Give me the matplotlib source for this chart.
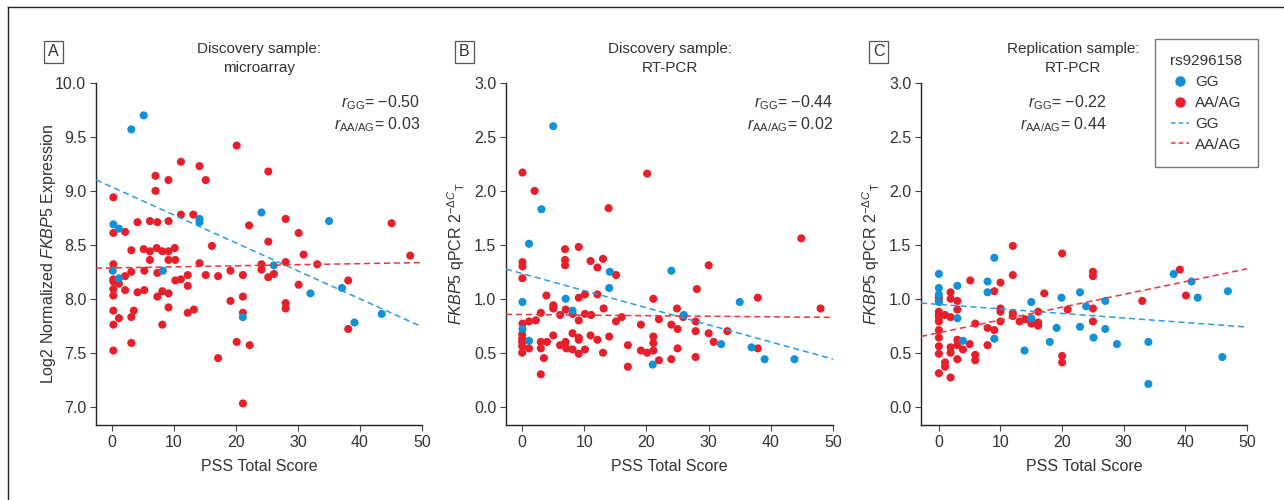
import matplotlib
matplotlib.use("Agg")
import matplotlib.pyplot as plt
from matplotlib.lines import Line2D
import numpy as np

plt.rcParams['font.family'] = ['Liberation Sans Narrow', 'Liberation Sans', 'DejaVu Sans']
plt.rcParams['mathtext.fontset'] = 'custom'
plt.rcParams['mathtext.rm'] = 'Liberation Sans'
plt.rcParams['mathtext.it'] = 'Liberation Sans:italic'
plt.rcParams['mathtext.bf'] = 'Liberation Sans:bold'

# ---------------- data ----------------
# Panel A: Discovery microarray
a_gg_x = [3.1, 5.1, 0.2, 1.1, 14.1, 14.1, 24.1, 35.0, 0.1, 1.1, 8.2, 21.1, 26.1, 32.0, 37.1, 39.1, 43.5]
a_gg_y = [9.57, 9.70, 8.69, 8.65, 8.74, 8.71, 8.80, 8.72, 8.26, 8.19, 8.26, 7.83, 8.31, 8.05, 8.10, 7.78, 7.86]
a_aa_x = [0.2, 0.2, 2.1, 4.1, 6.1, 7.3, 7.0, 7.0, 9.1, 9.1, 11.1, 11.1, 13.1, 14.1, 15.1, 20.1, 22.1,
          25.2, 25.2, 28.0, 30.1, 45.1, 16.1,
          0.2, 0.2, 0.2, 1.1, 0.2, 0.2, 0.2, 0.2, 0.2, 1.1, 2.1, 2.1, 3.1, 3.1, 3.1, 3.5, 3.1, 4.1,
          5.1, 6.1, 6.1, 5.2, 5.2, 7.2, 7.3, 7.3, 8.1, 8.1, 8.1, 9.1, 9.1, 9.1, 9.1, 10.1, 10.2, 10.2,
          11.1, 12.2, 12.2, 12.2, 13.2, 14.1, 15.1, 17.1, 17.1, 19.1, 19.1, 20.1, 21.1, 21.1, 21.1,
          21.1, 22.2, 24.1, 24.1, 25.2, 26.1, 28.0, 28.0, 28.0, 30.1, 30.9, 33.1, 38.1, 38.1, 48.1]
a_aa_y = [8.94, 8.61, 8.62, 8.71, 8.72, 8.71, 9.14, 9.00, 9.10, 8.72, 9.27, 8.78, 8.78, 9.23, 9.10, 9.42, 8.68,
          9.18, 8.53, 8.74, 8.61, 8.70, 8.49,
          8.32, 8.18, 8.16, 8.14, 8.09, 8.03, 7.89, 7.76, 7.52, 7.82, 8.21, 8.08, 8.45, 8.25, 7.83, 7.89, 7.59, 8.06,
          8.46, 8.44, 8.36, 8.26, 8.08, 8.47, 8.24, 8.02, 8.44, 8.07, 7.76, 8.44, 8.36, 8.05, 7.92, 8.47, 8.36, 8.17,
          8.18, 8.22, 8.12, 7.87, 7.90, 8.33, 8.22, 8.21, 7.45, 8.26, 7.98, 7.60, 8.22, 8.02, 7.87,
          7.03, 7.57, 8.32, 8.27, 8.20, 8.23, 8.34, 7.96, 7.91, 8.13, 8.41, 8.32, 8.17, 7.72, 8.40]

# Panel B: Discovery RT-PCR
b_gg_x = [5.0, 3.1, 1.1, 0.05, 0.05, 1.1, 7.0, 8.1, 14.1, 14.0, 21.0, 24.0, 26.0, 32.0, 35.0, 36.9, 39.0, 43.8]
b_gg_y = [2.60, 1.83, 1.51, 0.97, 0.72, 0.61, 1.00, 0.89, 1.25, 1.10, 0.39, 1.26, 0.85, 0.58, 0.97, 0.55, 0.44, 0.44]
b_aa_x = [0.05, 2.0, 20.1, 13.9, 44.9, 6.9, 9.1,
          0.05, 0.05, 0.05, 0.05, 0.0, 0.0, 0.0, 0.0, 0.0, 1.1, 1.1, 2.2, 3.0, 3.0, 3.0, 3.5, 3.0,
          3.9, 4.0, 5.0, 5.0, 5.0, 6.1, 6.1, 6.9, 6.9, 7.0, 7.0, 7.1, 8.1, 8.1, 8.1, 9.1, 9.1, 9.1,
          9.1, 9.1, 10.1, 10.1, 10.1, 11.0, 11.0, 11.1, 12.1, 12.1, 12.1, 13.0, 13.1, 13.0, 14.0,
          15.1, 15.1, 16.0, 17.0, 17.0, 19.1, 19.1, 20.1, 21.1, 21.1, 21.1, 21.1, 22.0, 22.0, 24.0,
          24.0, 24.9, 25.0, 25.0, 25.9, 27.9, 27.9, 27.9, 28.1, 30.0, 30.0, 30.8, 33.0, 37.9, 37.9, 48.0]
b_aa_y = [2.17, 2.00, 2.16, 1.84, 1.56, 1.46, 1.48,
          1.34, 1.30, 1.19, 0.77, 0.67, 0.63, 0.60, 0.56, 0.50, 0.79, 0.54, 0.80, 0.87, 0.60, 0.54, 0.45, 0.30,
          1.03, 0.60, 0.94, 0.91, 0.66, 0.85, 0.57, 1.36, 1.31, 0.90, 0.60, 0.54, 0.86, 0.68, 0.53, 1.01, 0.80, 0.64,
          0.62, 0.49, 1.04, 0.86, 0.53, 1.35, 0.66, 0.85, 1.29, 1.04, 0.62, 1.37, 0.91, 0.50, 0.65,
          1.22, 0.79, 0.83, 0.57, 0.37, 0.76, 0.52, 0.50, 1.00, 0.65, 0.59, 0.52, 0.81, 0.43, 0.76,
          0.44, 0.91, 0.72, 0.54, 0.83, 0.79, 0.70, 0.46, 1.09, 1.31, 0.68, 0.60, 0.70, 1.01, 0.54, 0.91]

# Panel C: Replication RT-PCR
c_gg_x = [0, 0, 0, 0, 3.0, 3.0, 3.9, 7.9, 7.9, 9.0, 9.0, 13.9, 15.0, 15.0, 18.0, 19.1, 19.9, 22.9, 22.9,
          23.9, 25.1, 27.0, 27.0, 28.9, 34.0, 34.0, 38.1, 41.0, 42.0, 46.0, 46.9]
c_gg_y = [1.23, 1.10, 1.04, 0.97, 1.12, 0.82, 0.61, 1.16, 1.06, 1.38, 0.63, 0.52, 0.97, 0.82, 0.60, 0.73, 1.01, 1.06, 0.74,
          0.93, 0.64, 0.98, 0.72, 0.58, 0.60, 0.21, 1.23, 1.16, 1.01, 0.46, 1.07]
c_aa_x = [12.0, 20.0, 12.0, 39.1, 25.0, 25.0, 5.1, 10.0, 9.0, 1.9, 17.1, 40.1, 0, 0, 1.9, 3.0, 33.0, 25.0,
          20.9, 10.0, 10.0, 3.0, 0, 0, 1.0, 0, 1.9, 12.0, 12.0, 16.1, 0, 13.1, 14.0, 15.0, 16.1, 16.1, 25.0,
          10.0, 5.9, 0, 7.9, 9.0, 0, 3.0, 3.0, 5.0, 7.9, 0, 1.9, 3.9, 1.9, 0, 5.9, 5.9, 3.0, 20.0, 20.0,
          1.0, 1.0, 0, 1.9]
c_aa_y = [1.49, 1.42, 1.22, 1.27, 1.25, 1.21, 1.17, 1.15, 1.07, 1.06, 1.05, 1.03, 1.01, 0.98, 1.00, 0.98, 0.98, 0.91,
          0.90, 0.91, 0.88, 0.90, 0.88, 0.85, 0.85, 0.83, 0.83, 0.87, 0.84, 0.88, 0.79, 0.79, 0.81, 0.77, 0.78, 0.75, 0.79,
          0.79, 0.77, 0.71, 0.73, 0.71, 0.64, 0.62, 0.57, 0.58, 0.57, 0.56, 0.55, 0.53, 0.50, 0.49, 0.48, 0.43, 0.44, 0.47, 0.41,
          0.41, 0.37, 0.31, 0.27]

# fitted lines: (intercept, slope)
a_fit_gg = (9.035, -0.0259)
a_fit_aa = (8.286, 0.00099)
b_fit_gg = (1.234, -0.01586)
b_fit_aa = (0.854, -0.00053)
c_fit_gg = (0.948, -0.0042)
c_fit_aa = (0.685, 0.01185)

titles = ["Discovery sample:\nmicroarray", "Discovery sample:\nRT-PCR", "Replication sample:\nRT-PCR"]
letters = ["A", "B", "C"]
r_gg = ["−0.50", "−0.44", "−0.22"]
r_aa = ["0.03", "0.02", "0.44"]
x_ticks = [0, 10, 20, 30, 40, 50]
a_yticks = [7.0, 7.5, 8.0, 8.5, 9.0, 9.5, 10.0]
bc_yticks = [0.0, 0.5, 1.0, 1.5, 2.0, 2.5, 3.0]
legend_title = "rs9296158"
group_labels = ["GG", "AA/AG"]

BLUE = "#1191d9"
RED = "#e81f2b"
BLUE_L = "#2a9ee0"
RED_L = "#ee3340"
TXT = "#333333"

W, H = 1284, 500
fig = plt.figure(figsize=(W / 100, H / 100), dpi=100)

def px_axes(l, r, t, b):
    return fig.add_axes([l / W, 1 - b / H, (r - l) / W, (b - t) / H])

axA = px_axes(96, 422, 83, 425)
axB = px_axes(506, 833, 83, 425)
axC = px_axes(921, 1247, 83, 425)

panels = [
    (axA, a_gg_x, a_gg_y, a_aa_x, a_aa_y, a_fit_gg, a_fit_aa, (-2.6, 50), (6.83, 10.0), a_yticks, 0.5),
    (axB, b_gg_x, b_gg_y, b_aa_x, b_aa_y, b_fit_gg, b_fit_aa, (-2.6, 50), (-0.17, 3.0), bc_yticks, 0.5),
    (axC, c_gg_x, c_gg_y, c_aa_x, c_aa_y, c_fit_gg, c_fit_aa, (-2.9, 50), (-0.17, 3.0), bc_yticks, 0.466),
]

FS = 11.5
FT = 11
for i, (ax, gx, gy, ax_, ay, fg, fa, xl, yl, yt, tx) in enumerate(panels):
    ax.scatter(ax_, ay, s=34, color=RED, edgecolors='none', zorder=3)
    ax.scatter(gx, gy, s=34, color=BLUE, edgecolors='none', zorder=3)
    xx = np.array(xl)
    ax.plot(xx, fg[0] + fg[1] * xx, color=BLUE_L, lw=1.1, dashes=(4, 2.5), zorder=4)
    ax.plot(xx, fa[0] + fa[1] * xx, color=RED_L, lw=1.1, dashes=(4, 2.5), zorder=4)
    ax.set_xlim(*xl)
    ax.set_ylim(*yl)
    ax.set_xticks(x_ticks)
    ax.set_yticks(yt)
    ax.set_yticklabels([f"{v:.1f}" for v in yt])
    for s in ['top', 'right']:
        ax.spines[s].set_visible(False)
    for s in ['left', 'bottom']:
        ax.spines[s].set_color('#222222')
        ax.spines[s].set_linewidth(1.0)
    ax.spines['left'].set_bounds(yl[0], yt[-1])
    ax.tick_params(length=4, width=0.8, color='#444444', labelsize=FS, labelcolor=TXT, pad=3)
    ax.set_xlabel("PSS Total Score", fontsize=FS, color=TXT, labelpad=7)
    ax.set_title(titles[i], fontsize=FT, color=TXT, pad=8, linespacing=1.4, x=tx)
    ax.patch.set_alpha(0)

axA.set_ylabel(r"Log2 Normalized $\it{FKBP5}$ Expression", fontsize=FS, color=TXT, labelpad=-2)
for ax in (axB, axC):
    ax.set_ylabel(r"$\it{FKBP5}$ qPCR 2$^{-\Delta C}$$_{\mathrm{T}}$", fontsize=FS, color=TXT, labelpad=5)

# correlation texts
corr_pos = [(420, 'right'), (833, 'right'), (1107, 'right')]
for i, (xp, ha) in enumerate(corr_pos):
    fig.text(xp / W, 1 - 103 / H, r"$r_{\mathrm{GG}}$= " + r_gg[i], ha=ha, va='center', fontsize=FS, color=TXT)
    fig.text(xp / W, 1 - 125 / H, r"$r_{\mathrm{AA/AG}}$= " + r_aa[i], ha=ha, va='center', fontsize=FS, color=TXT)

# panel letters
for lx, let in zip([53.5, 464.5, 878.5], letters):
    fig.text(lx / W, 1 - 52 / H, let, ha='center', va='center', fontsize=FS, color=TXT,
             bbox=dict(boxstyle='square,pad=0.25', fc='white', ec='#555555', lw=0.9))

# legend
handles = [
    Line2D([], [], ls='none', marker='o', ms=7.5, color=BLUE, mec='none'),
    Line2D([], [], ls='none', marker='o', ms=7.5, color=RED, mec='none'),
    Line2D([], [], color=BLUE_L, lw=1.1, dashes=(3, 2)),
    Line2D([], [], color=RED_L, lw=1.1, dashes=(3, 2)),
]
leg = fig.legend(handles, group_labels + group_labels, title=legend_title,
                 loc='upper left', bbox_to_anchor=(1155 / W, 1 - 39 / H), borderaxespad=0,
                 fontsize=FT, title_fontsize=FT, frameon=True, fancybox=False,
                 handlelength=1.2, handletextpad=0.4, labelspacing=0.45, borderpad=1.0,
                 edgecolor='#555555')
leg.get_frame().set_linewidth(1.0)
leg.get_title().set_color(TXT)
for t in leg.get_texts():
    t.set_color(TXT)

# figure frame (left and top lines)
fig.add_artist(Line2D([8 / W, 8 / W], [0, 1 - 7 / H], color='#222222', lw=1.0))
fig.add_artist(Line2D([8 / W, 1], [1 - 7 / H, 1 - 7 / H], color='#222222', lw=1.0))

fig.savefig("out.png", dpi=100)
